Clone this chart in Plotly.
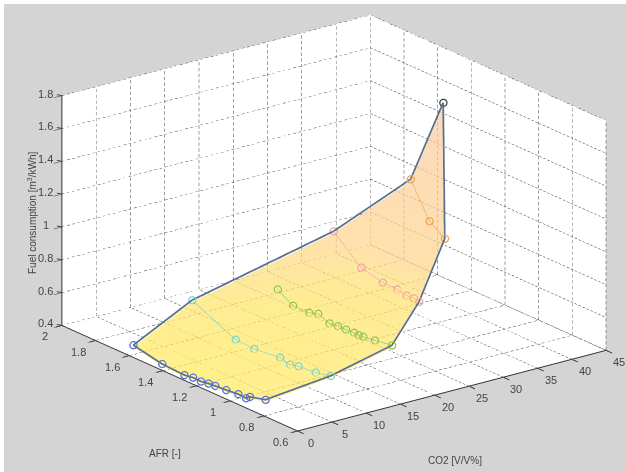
import plotly.graph_objects as go

x_ticks = [0, 5, 10, 15, 20, 25, 30, 35, 40, 45]
y_ticks = [0.6, 0.8, 1.0, 1.2, 1.4, 1.6, 1.8, 2.0]
y_labels = ["0.6", "0.8", "1", "1.2", "1.4", "1.6", "1.8", "2"]
z_ticks = [0.4, 0.6, 0.8, 1.0, 1.2, 1.4, 1.6, 1.8]
z_labels = ["0.4", "0.6", "0.8", "1", "1.2", "1.4", "1.6", "1.8"]

co2_levels = [0, 10, 20, 30, 35, 40]
afr_0 = [1.576, 1.405, 1.273, 1.222, 1.175, 1.130, 1.090, 1.025, 0.953, 0.907, 0.884, 0.791]
fc_0 = [0.475, 0.439, 0.432, 0.440, 0.438, 0.446, 0.450, 0.455, 0.463, 0.459, 0.478, 0.503]
afr_10 = [1.634, 1.376, 1.266, 1.112, 1.053, 1.002, 0.901, 0.811]
fc_10 = [0.613, 0.491, 0.485, 0.503, 0.488, 0.501, 0.509, 0.530]
afr_20 = [1.533, 1.442, 1.346, 1.293, 1.226, 1.175, 1.128, 1.080, 1.052, 1.025, 0.956, 0.854]
fc_20 = [0.615, 0.558, 0.559, 0.578, 0.550, 0.557, 0.557, 0.560, 0.558, 0.561, 0.570, 0.587]
afr_30 = [1.608, 1.445, 1.317, 1.230, 1.175, 1.132, 1.100]
fc_30 = [0.826, 0.680, 0.648, 0.645, 0.634, 0.636, 0.630]
afr_35 = [1.354, 1.242, 1.151]
fc_35 = [1.205, 1.001, 0.937]
afr_40 = [1.364]
fc_40 = [1.612]

curves = [
    (co2_levels[0], afr_0, fc_0, "#5a6fd0"),
    (co2_levels[1], afr_10, fc_10, "#7fd3c4"),
    (co2_levels[2], afr_20, fc_20, "#93c454"),
    (co2_levels[3], afr_30, fc_30, "#f2a6a0"),
    (co2_levels[4], afr_35, fc_35, "#f0a050"),
    (co2_levels[5], afr_40, fc_40, "#444444"),
]

fig = go.Figure()

# Surface between neighbouring curves (sunk a hair so the curves stay on top)
vx, vy, vz, ti, tj, tk = [], [], [], [], [], []
starts = []
for c, a, f, _ in curves:
    starts.append(len(vx))
    vx += [c] * len(a)
    vy += a
    vz += [v - 0.012 for v in f]
for n in range(len(curves) - 1):
    s0, s1 = starts[n], starts[n + 1]
    n0, n1 = len(curves[n][1]), len(curves[n + 1][1])
    p, q = 0, 0
    while p < n0 - 1 or q < n1 - 1:
        advance_p = q >= n1 - 1 or (p < n0 - 1 and (p + 1) / max(n0 - 1, 1) <= (q + 1) / max(n1 - 1, 1))
        if advance_p:
            ti.append(s0 + p); tj.append(s0 + p + 1); tk.append(s1 + q)
            p += 1
        else:
            ti.append(s0 + p); tj.append(s1 + q + 1); tk.append(s1 + q)
            q += 1
ti.append(starts[1]); tj.append(starts[2]); tk.append(starts[3])

fig.add_trace(go.Mesh3d(
    x=vx, y=vy, z=vz, i=ti, j=tj, k=tk,
    intensity=vz, cmin=0.4, cmax=1.7,
    colorscale=[[0, "#FFEB60"], [0.12, "#FEE668"], [0.3, "#FDD58C"], [1, "#FAC8A6"]],
    showscale=False, opacity=0.72, hoverinfo="skip",
    lighting=dict(ambient=1, diffuse=0, specular=0, roughness=1, fresnel=0),
))

# Dashed grid, cut into short pieces
gx, gy, gz = [], [], []
def seg(a, b, n):
    for m in range(n):
        for u in (m / n, (m + 0.6) / n):
            gx.append(a[0] + (b[0] - a[0]) * u)
            gy.append(a[1] + (b[1] - a[1]) * u)
            gz.append(a[2] + (b[2] - a[2]) * u)
        gx.append(None); gy.append(None); gz.append(None)
X0, X1, Y0, Y1, Z0, Z1 = 0, 45, 0.6, 2.0, 0.4, 1.8
for t in x_ticks:
    seg((t, Y0, Z0), (t, Y1, Z0), 60)
    seg((t, Y1, Z0), (t, Y1, Z1), 40)
for t in y_ticks:
    seg((X0, t, Z0), (X1, t, Z0), 60)
    seg((X1, t, Z0), (X1, t, Z1), 40)
for t in z_ticks:
    seg((X0, Y1, t), (X1, Y1, t), 60)
    seg((X1, Y1, t), (X1, Y0, t), 60)
fig.add_trace(go.Scatter3d(x=gx, y=gy, z=gz, mode="lines", hoverinfo="skip",
                           line=dict(color="#3c3c3c", width=1)))

# Curves
for c, a, f, col in curves:
    fig.add_trace(go.Scatter3d(
        x=[c] * len(a), y=a, z=f, mode="lines+markers", hoverinfo="skip",
        line=dict(color=col, width=1.5),
        marker=dict(symbol="circle-open", size=4.5, color=col, line=dict(color=col, width=1)),
    ))

# Outline of the surface
h = [(curves[0][0], afr_0[0], fc_0[0]), (10, afr_10[0], fc_10[0]), (30, afr_30[0], fc_30[0]),
     (35, afr_35[0], fc_35[0]), (40, afr_40[0], fc_40[0]), (35, afr_35[-1], fc_35[-1]),
     (30, afr_30[-1], fc_30[-1]), (20, afr_20[-1], fc_20[-1]), (10, afr_10[-1], fc_10[-1])]
h += [(0, afr_0[m], fc_0[m]) for m in range(len(afr_0) - 1, -1, -1)]
fig.add_trace(go.Scatter3d(x=[p[0] for p in h], y=[p[1] for p in h], z=[p[2] for p in h],
                           mode="lines", hoverinfo="skip", line=dict(color="#55708f", width=3.5)))

axis = dict(showbackground=True, backgroundcolor="white", showgrid=False, zeroline=False,
            showline=True, linecolor="#333333", linewidth=2, ticks="outside", ticklen=10,
            tickcolor="#333333", tickwidth=1, showticklabels=False,
            showspikes=False, title=dict(text=""))

tick_font = dict(family="Liberation Sans", size=11, color="#444444")
scene_notes = []
def tick_mark(px, py, pz, ax, ay):
    scene_notes.append(dict(x=px, y=py, z=pz, text=" ", showarrow=True, arrowhead=0, arrowwidth=1,
                            arrowcolor="#444444", ax=ax, ay=ay, standoff=0, startstandoff=0))
for t in x_ticks:
    scene_notes.append(dict(x=t, y=Y0, z=Z0, text=str(t), showarrow=False, xshift=13, yshift=-12, font=tick_font))
    tick_mark(t, Y0, Z0, 9, 4)
for t, s in zip(y_ticks, y_labels):
    scene_notes.append(dict(x=X0, y=t, z=Z0, text=s, showarrow=False, xshift=-17, yshift=-11, font=tick_font))
    tick_mark(X0, t, Z0, -9, 2.4)
for t, s in zip(z_ticks, z_labels):
    scene_notes.append(dict(x=X0, y=Y1, z=t, text=s, showarrow=False, xshift=-16, yshift=2, font=tick_font))
    tick_mark(X0, Y1, t, -8, -1.5)

k = 1.9
gain = 1.645
cen = dict(x=-0.0721, y=0.0241, z=-0.0678)
title_font = dict(size=10, color="#444444")
fig.update_layout(
    width=626, height=472, margin=dict(l=0, r=0, t=0, b=0), paper_bgcolor="#d4d4d4",
    showlegend=False, font=dict(family="Liberation Sans", color="#444444"),
    scene=dict(
        domain=dict(x=[0, 1], y=[0, 1]),
        aspectmode="manual", aspectratio=dict(x=gain, y=gain, z=0.63 * gain),
        xaxis=dict(axis, range=[0, 45], tickvals=x_ticks),
        yaxis=dict(axis, range=[0.6, 2], tickvals=y_ticks),
        zaxis=dict(axis, range=[0.4, 1.8], tickvals=z_ticks),
        camera=dict(projection=dict(type="orthographic"),
                    eye=dict(x=cen["x"] - 0.57 * k, y=cen["y"] - 0.746 * k, z=cen["z"] + 0.342 * k),
                    up=dict(x=0, y=0, z=1), center=cen),
        annotations=scene_notes,
    ),
    annotations=[
        dict(text="AFR [-]", x=161 / 626, y=1 - 449 / 472, xref="paper", yref="paper", showarrow=False,
             xanchor="center", yanchor="middle", font=title_font),
        dict(text="CO2 [V/V%]", x=451 / 626, y=1 - 456 / 472, xref="paper", yref="paper", showarrow=False,
             xanchor="center", yanchor="middle", font=title_font),
        dict(text="Fuel consumption [m<sup>3</sup>/kWh]", x=28 / 626, y=1 - 209 / 472, xref="paper", yref="paper",
             showarrow=False, textangle=-90, xanchor="center", yanchor="middle", font=title_font),
    ],
)
fig.write_html("out.html", post_script="document.body.style.margin='4px 0 0 4px';")
